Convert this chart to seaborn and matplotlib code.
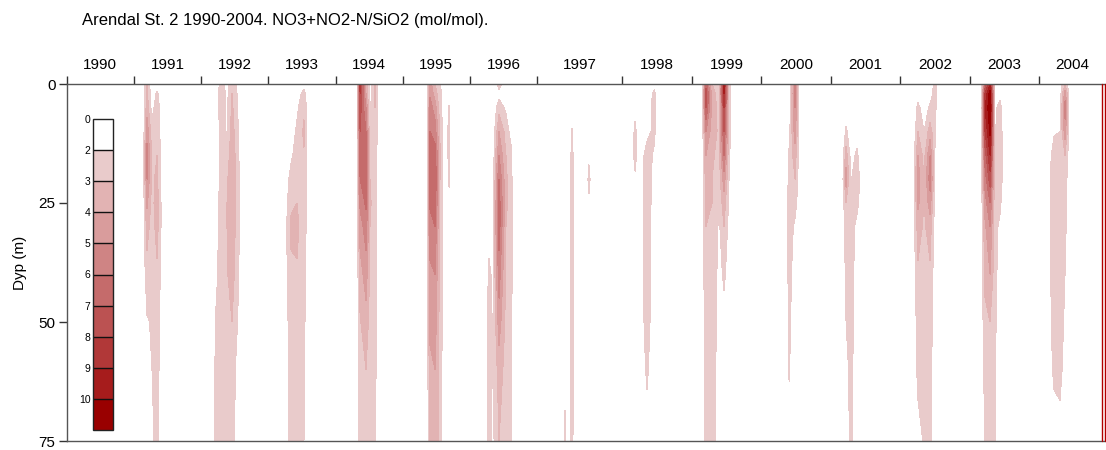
import numpy as np
import matplotlib
matplotlib.use("Agg")
import matplotlib.pyplot as plt
import seaborn as sns

sns.set_theme(style="white")
plt.rcParams["font.family"] = ["Liberation Sans", "DejaVu Sans"]
plt.rcParams.update({"text.color": "black", "axes.labelcolor": "black",
                     "xtick.color": "black", "ytick.color": "black"})

# ---- data -------------------------------------------------------------
title = "Arendal St. 2 1990-2004. NO3+NO2-N/SiO2 (mol/mol)."
years = list(range(1990, 2005))
# positions of the year boundaries on the time axis
year_tick_x = [1990.0, 1991.0, 1992.0, 1993.0, 1994.0, 1995.0, 1996.0, 1997.0,
               1998.263, 1999.301, 2000.332, 2001.369, 2002.400, 2003.438, 2004.469]
x_end = 2005.458

depth_m = [0, 2, 5, 10, 15, 20, 25, 30, 40, 50, 60, 75]

# profile of a cruise with ratio below 2 at all depths
background = [1.0, 1.0, 1.1, 1.1, 1.2, 1.2, 1.2, 1.3, 1.3, 1.2, 1.2, 1.1]

cruise_t = [
    1991.135, 1991.195, 1991.269, 1991.344, 1991.433,
    1992.162, 1992.222, 1992.296, 1992.385, 1992.460, 1992.609,
    1993.234, 1993.338, 1993.427, 1993.531, 1993.606,
    1994.320, 1994.365, 1994.454, 1994.513, 1994.588, 1994.662,
    1995.362, 1995.406, 1995.481, 1995.555, 1995.629, 1995.689, 1995.734,
    1996.225, 1996.284, 1996.344, 1996.433, 1996.537, 1996.612, 1996.656,
    1997.356, 1997.415, 1997.460, 1997.519, 1997.579, 1997.713, 1997.772, 1997.832,
    1998.397, 1998.457, 1998.531, 1998.635, 1998.740, 1998.814,
    1999.454, 1999.513, 1999.603, 1999.707, 1999.781, 1999.856, 1999.915,
    2000.704, 2000.749, 2000.838, 2000.912,
    2001.537, 2001.597, 2001.671, 2001.760, 2001.835,
    2002.594, 2002.668, 2002.757, 2002.847, 2002.921, 2002.981,
    2003.606, 2003.665, 2003.740, 2003.814, 2003.888, 2003.963,
    2004.573, 2004.692, 2004.781, 2004.856, 2004.930,
]

# NO3+NO2-N / SiO2 ratio per cruise, one row per cruise, columns = depth_m
ratio = [
    # 1991
    background,
    [3.0, 3.2, 3.6, 4.6, 5.4, 5.0, 4.2, 3.4, 2.6, 1.9, 1.4, 1.1],
    [1.2, 1.3, 1.6, 2.4, 2.8, 2.8, 2.6, 2.5, 2.3, 2.1, 2.0, 1.8],
    [1.3, 2.2, 2.6, 2.8, 3.0, 3.2, 3.6, 3.4, 2.8, 2.6, 2.4, 2.3],
    background,
    # 1992
    background,
    [1.0, 1.0, 1.0, 1.1, 1.1, 1.2, 1.3, 1.4, 1.6, 2.2, 2.3, 2.4],
    [2.6, 2.8, 2.8, 2.5, 2.3, 2.4, 2.6, 2.7, 2.8, 2.6, 2.5, 2.5],
    [1.5, 1.7, 1.8, 1.9, 2.3, 2.8, 3.0, 3.0, 2.9, 2.6, 2.4, 2.3],
    [2.8, 3.0, 3.2, 3.5, 3.8, 4.0, 4.0, 3.8, 3.5, 3.0, 2.4, 2.3],
    background,
    # 1993
    background,
    [1.0, 1.1, 1.2, 1.4, 1.8, 2.4, 2.8, 3.2, 2.8, 2.6, 2.5, 2.5],
    [1.2, 1.4, 1.8, 2.2, 2.5, 2.8, 3.0, 3.2, 2.9, 2.7, 2.6, 2.5],
    [1.5, 2.4, 2.8, 3.2, 2.9, 2.7, 2.6, 2.5, 2.3, 2.2, 2.1, 2.0],
    background,
    # 1994
    background,
    [8.5, 8.0, 7.5, 7.0, 6.5, 6.0, 5.2, 4.5, 3.5, 2.9, 2.7, 2.6],
    [3.5, 4.0, 5.0, 6.0, 6.5, 6.8, 6.2, 5.5, 4.5, 3.6, 3.0, 2.8],
    [1.5, 1.6, 1.8, 2.2, 2.6, 3.0, 3.2, 3.0, 2.8, 2.6, 2.5, 2.4],
    [3.0, 3.2, 3.0, 2.8, 2.4, 2.4, 2.3, 2.3, 2.2, 2.2, 2.2, 2.2],
    background,
    # 1995
    background,
    [4.5, 4.8, 5.5, 6.0, 6.5, 6.5, 6.2, 5.5, 4.8, 4.2, 3.8, 3.5],
    [3.0, 3.5, 4.5, 5.5, 6.5, 7.0, 6.5, 6.0, 5.0, 4.5, 4.0, 3.8],
    [2.2, 2.3, 2.5, 2.8, 3.2, 3.0, 2.8, 2.7, 2.6, 2.6, 2.5, 2.5],
    background,
    [1.2, 1.4, 2.1, 2.4, 2.3, 2.1, 1.8, 1.5, 1.3, 1.2, 1.2, 1.1],
    background,
    # 1996
    background,
    [1.0, 1.0, 1.0, 1.1, 1.2, 1.3, 1.4, 1.6, 2.2, 2.4, 2.4, 2.3],
    [1.0, 1.1, 1.2, 1.3, 1.4, 1.5, 1.6, 1.7, 1.8, 1.9, 1.9, 1.8],
    [2.5, 1.6, 2.6, 4.0, 5.0, 6.0, 6.5, 6.5, 5.5, 4.5, 3.5, 3.0],
    [1.2, 1.3, 1.8, 2.6, 3.0, 3.2, 3.2, 3.0, 2.8, 2.7, 2.6, 2.5],
    [1.0, 1.1, 1.2, 1.6, 2.3, 2.4, 2.5, 2.5, 2.4, 2.3, 2.3, 2.2],
    background,
    # 1997
    background,
    [1.0, 1.0, 1.0, 1.0, 1.1, 1.1, 1.2, 1.2, 1.3, 1.4, 1.6, 2.3],
    background,
    [1.0, 1.1, 1.3, 2.1, 2.3, 2.3, 2.4, 2.4, 2.4, 2.4, 2.3, 2.3],
    background,
    background,
    [1.0, 1.0, 1.1, 1.3, 1.8, 2.3, 1.8, 1.4, 1.3, 1.2, 1.1, 1.0],
    background,
    # 1998
    background,
    [1.0, 1.2, 1.6, 2.3, 2.4, 1.8, 1.5, 1.4, 1.3, 1.2, 1.2, 1.1],
    background,
    [1.0, 1.1, 1.3, 1.6, 2.6, 2.8, 2.8, 2.8, 2.7, 2.6, 2.2, 1.5],
    [1.5, 2.3, 2.4, 2.3, 1.8, 1.5, 1.4, 1.3, 1.3, 1.2, 1.2, 1.1],
    background,
    # 1999
    background,
    [6.5, 7.5, 7.0, 5.0, 4.0, 3.5, 3.2, 3.0, 2.8, 2.6, 2.4, 2.3],
    [3.0, 3.5, 3.8, 3.5, 3.2, 3.0, 3.0, 3.0, 2.9, 2.8, 2.7, 2.6],
    [2.0, 2.4, 2.6, 2.8, 2.6, 2.5, 2.3, 1.8, 1.6, 1.5, 1.4, 1.3],
    [9.5, 9.0, 8.0, 7.0, 6.0, 4.5, 3.5, 3.0, 2.2, 1.6, 1.4, 1.2],
    [2.5, 2.6, 2.6, 2.5, 2.2, 2.0, 1.8, 1.6, 1.5, 1.4, 1.3, 1.2],
    background,
    # 2000
    background,
    [1.0, 1.1, 1.2, 1.6, 2.2, 2.4, 2.5, 2.5, 2.4, 2.3, 2.1, 1.5],
    [5.0, 5.5, 5.0, 4.5, 3.5, 3.0, 2.4, 1.8, 1.4, 1.2, 1.1, 1.0],
    background,
    # 2001
    background,
    [1.0, 1.1, 1.3, 2.2, 3.5, 4.5, 3.0, 2.4, 2.2, 2.0, 1.6, 1.4],
    [1.0, 1.0, 1.1, 1.3, 1.6, 1.9, 2.2, 2.6, 2.6, 2.5, 2.4, 2.3],
    [1.0, 1.0, 1.2, 1.5, 2.2, 2.8, 2.4, 1.6, 1.3, 1.2, 1.1, 1.0],
    background,
    # 2002
    background,
    [1.2, 1.5, 2.3, 3.0, 4.0, 4.5, 4.2, 3.5, 2.8, 2.5, 2.3, 1.6],
    [1.0, 1.1, 1.4, 2.0, 2.6, 3.0, 3.0, 2.8, 2.5, 2.3, 2.2, 2.1],
    [1.3, 1.5, 2.2, 3.5, 5.0, 5.5, 4.5, 3.5, 2.8, 2.6, 2.4, 2.3],
    [2.4, 2.4, 2.3, 2.2, 1.9, 1.8, 1.6, 1.5, 1.4, 1.3, 1.2, 1.1],
    background,
    # 2003
    background,
    [6.0, 8.0, 9.0, 8.0, 6.5, 5.5, 4.5, 3.8, 3.2, 2.8, 2.4, 2.1],
    [9.0, 10.5, 10.8, 10.2, 9.0, 7.5, 6.0, 5.0, 4.0, 3.0, 2.5, 2.4],
    [1.5, 1.7, 1.8, 1.9, 2.0, 2.1, 2.2, 2.3, 2.3, 2.2, 2.1, 2.1],
    [1.2, 1.6, 2.4, 2.6, 2.7, 2.6, 2.2, 1.8, 1.5, 1.3, 1.2, 1.1],
    background,
    # 2004
    background,
    [1.0, 1.1, 1.3, 1.9, 2.4, 2.8, 2.8, 2.6, 2.5, 2.4, 2.2, 1.5],
    [1.2, 1.4, 1.7, 2.0, 2.4, 2.6, 2.7, 2.7, 2.6, 2.5, 2.3, 1.6],
    [3.0, 4.5, 5.5, 4.5, 3.0, 2.5, 2.4, 2.2, 2.0, 1.8, 1.6, 1.4],
    background,
]

levels = [0, 2, 3, 4, 5, 6, 7, 8, 9, 10, 11]
level_colors = ["#ffffff", "#e9cbcb", "#e2b3b3", "#d99c9c", "#cf8484",
                "#c56b6b", "#bb5252", "#b13838", "#a61c1c", "#990000"]

# ---- figure -----------------------------------------------------------
W, H = 1106, 450
fig = plt.figure(figsize=(W / 100, H / 100), dpi=100)
ax = fig.add_axes([66.7 / W, 1 - 441 / H, (1105.5 - 66.7) / W, (441 - 84) / H])

T, D = np.meshgrid(np.array(cruise_t), np.array(depth_m))
Z = np.array(ratio).T
cf = ax.contourf(T, D, Z, levels=levels, colors=level_colors)

ax.set_xlim(1990.0, x_end)
ax.set_ylim(75, 0)

# frame
spine_col = "#555555"
for side in ("top", "bottom", "left"):
    ax.spines[side].set_color(spine_col)
    ax.spines[side].set_linewidth(1.0)
ax.spines["right"].set_visible(False)
x_edge = ax.get_xlim()[1]
for off in (0.048, 0.008):
    ax.axvline(x_edge - off, color="#b00000", linewidth=1.0, zorder=3,
               clip_on=False)

# top time axis: boundaries as major ticks, year labels centered in between
ax.xaxis.tick_top()
ax.set_xticks(year_tick_x)
ax.set_xticklabels([])
mids = [(a + b) / 2 for a, b in zip(year_tick_x, year_tick_x[1:] + [x_end])]
ax.set_xticks(mids, minor=True)
ax.set_xticklabels([str(y) for y in years], minor=True)
ax.tick_params(axis="x", which="major", direction="out", length=6,
               width=1.0, color="#333333", top=True, bottom=False)
ax.tick_params(axis="x", which="minor", length=0, pad=8.5, labelsize=11,
               top=True, bottom=False, labeltop=True, labelbottom=False)

ax.set_yticks([0, 25, 50, 75])
ax.tick_params(axis="y", which="major", direction="out", length=6, width=1.0,
               color="#333333", labelsize=11, pad=2, left=True)
ax.set_ylabel("Dyp (m)", fontsize=11, labelpad=8)

fig.text(82 / W, 1 - 20 / H, title, fontsize=12, ha="left", va="center")

# colour key inside the section
cax = fig.add_axes([93.3 / W, 1 - 430 / H, 20 / W, (430 - 119) / H])
cb = fig.colorbar(cf, cax=cax, spacing="uniform")
cb.set_ticks([0, 2, 3, 4, 5, 6, 7, 8, 9, 10])
cb.ax.invert_yaxis()
cb.ax.yaxis.set_ticks_position("left")
cb.ax.tick_params(length=0, labelsize=7.5, pad=2)
cb.outline.set_edgecolor("#222222")
cb.outline.set_linewidth(1.0)
for lev in levels[1:-1]:
    cb.ax.axhline(lev, color="#111111", linewidth=1.0)

fig.savefig("out.png", dpi=100)
